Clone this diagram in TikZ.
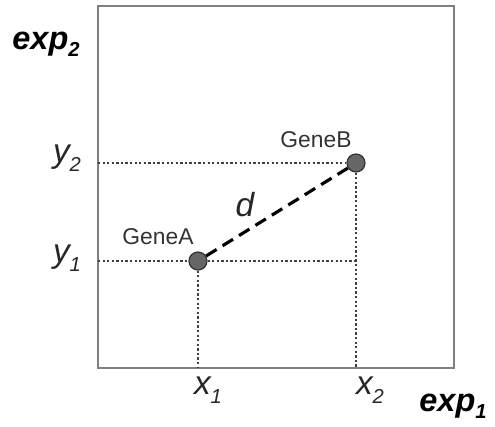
\documentclass[tikz,border=0pt]{standalone}
\usepackage{fontspec}
\setmainfont{Liberation Sans}
\usetikzlibrary{positioning}

\newcommand{\lowidx}[2]{\raisebox{-#2pt}{\fontsize{11.5}{12}\selectfont #1}}

\begin{document}
\begin{tikzpicture}[
  x=0.02cm, y=-0.02cm,
  gene/.style={circle, draw=black!80, fill=black!60, line width=0.7pt,
    minimum size=0.36cm, inner sep=0pt},
  guide/.style={black!75, line width=0.6pt, dash pattern=on 1.3pt off 1.3pt},
  distline/.style={black, line width=1.8pt, dash pattern=on 7pt off 4pt},
  axislabel/.style={font=\fontsize{18.5}{20}\selectfont\bfseries\itshape, inner sep=0pt},
  coordlabel/.style={font=\fontsize{19}{21}\selectfont\itshape, text=black!85, inner sep=0pt},
  genelabel/.style={font=\fontsize{13}{15}\selectfont, text=black!80, inner sep=0pt}
]
\useasboundingbox (0,0) rectangle (495,427);

% ============================================================
% Plot frame
% ============================================================
\draw[draw=black!50, line width=1.2pt] (98,6) rectangle (454,368);

% ============================================================
% Axis labels
% ============================================================
\node[axislabel] (exptwo) at (46,44) {exp\lowidx{2}{4}};
\node[axislabel] (expone) at (453,406) {exp\lowidx{1}{4}};

% ============================================================
% Guide lines (projections onto the axes)
% ============================================================
\coordinate (ytwoaxis) at (98,163);
\coordinate (yoneaxis) at (98,261);
\coordinate (yoneend) at (357,261);
\coordinate (xoneaxis) at (198,368);
\coordinate (xtwoaxis) at (356,368);

\draw[guide] (yoneaxis) -- (yoneend);

% ============================================================
% Genes
% ============================================================
\node[gene] (genea) at (198,261) {};
\node[gene] (geneb) at (356,163) {};

\draw[guide] (ytwoaxis) -- (geneb);
\draw[guide] (genea) -- (xoneaxis);
\draw[guide] (geneb) -- (xtwoaxis);

\node[genelabel] (genealabel) at (158,237) {GeneA};
\node[genelabel] (geneblabel) at (316,140) {GeneB};

% Distance between the two genes
\draw[distline] (genea) -- (geneb);
\node[coordlabel] (dlabel) at (245,205) {d};

% ============================================================
% Coordinate labels
% ============================================================
\node[coordlabel] (ytwo) at (67,158) {y\lowidx{2}{5}};
\node[coordlabel] (yone) at (67,258) {y\lowidx{1}{5}};
\node[coordlabel] (xone) at (208,390) {x\lowidx{1}{5}};
\node[coordlabel] (xtwo) at (370,390) {x\lowidx{2}{5}};

\end{tikzpicture}
\end{document}
